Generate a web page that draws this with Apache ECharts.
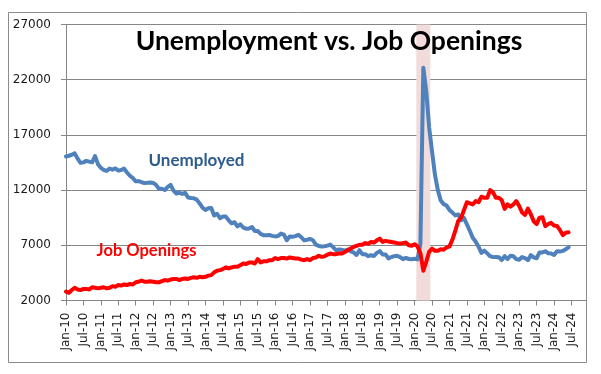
<!DOCTYPE html>
<html><head><meta charset="utf-8">
<script src="https://cdn.jsdelivr.net/npm/echarts@6/dist/echarts.min.js"></script>
<style>html,body{margin:0;padding:0;background:#fff}#c{width:601px;height:374px}</style>
</head><body><div id="c"></div>
<script>
const monthNames = ['Jan','Feb','Mar','Apr','May','Jun','Jul','Aug','Sep','Oct','Nov','Dec'];
const yearLabels = ['10','11','12','13','14','15','16','17','18','19','20','21','22','23','24'];
const categories = [];
yearLabels.forEach(y => monthNames.forEach(m => categories.push(m + '-' + y)));

const yMin = 2000, yMax = 27000, yStep = 5000;

const unemployed = [
  15046,15113,15202,15325,14849,14474,14512,14648,14579,14516,15081,14348,
  14013,13820,13737,13957,13855,13962,13763,13818,13948,13594,13302,13093,
  12797,12813,12713,12646,12660,12692,12656,12471,12115,12124,12005,12298,
  12471,11950,11689,11760,11654,11751,11335,11279,11270,11136,10787,10404,
  10202,10349,10380,9702,9859,9460,9608,9599,9262,8990,9090,8717,
  8903,8610,8504,8526,8661,8297,8293,8037,7905,7908,7931,7855,
  7806,7838,8058,7962,7460,7800,7776,7833,7958,7729,7449,7508,
  7575,7459,7058,6941,6899,6915,6974,7062,6813,6554,6615,6589,
  6525,6618,6458,6358,6124,6555,6198,6197,6010,6101,6031,6311,
  6468,6167,6170,5812,5936,6020,6050,5935,5741,5854,5759,5737,
  5787,5722,7140,23078,20985,17697,15500,13400,12000,11049,10728,10600,
  10200,9963,9711,9796,9262,9474,8900,8314,7687,7346,6874,6319,
  6516,6270,6012,5929,5948,5912,5668,6014,5753,6059,6011,5753,
  5694,5936,5839,5657,6109,5911,5827,6351,6358,6458,6281,6268,
  6124,6458,6429,6492,6649,6811
];

const jobOpenings = [
  2800,2700,2950,3150,3000,2950,3050,3050,3000,3200,3150,3100,
  3150,3200,3100,3150,3300,3250,3400,3350,3450,3400,3500,3450,
  3650,3700,3800,3700,3700,3750,3700,3650,3650,3750,3850,3800,
  3900,3950,3950,3850,3950,4000,3950,4050,4100,4050,4150,4100,
  4150,4250,4300,4550,4700,4750,4850,5000,4900,5000,5050,5050,
  5200,5350,5300,5450,5450,5350,5750,5450,5550,5550,5650,5650,
  5850,5750,5850,5850,5800,5900,5850,5800,5800,5700,5650,5750,
  5650,5850,5900,6050,5950,6000,6150,6250,6200,6200,6250,6250,
  6400,6550,6700,6850,6950,7050,7050,7200,7150,7300,7250,7450,
  7600,7300,7400,7350,7300,7250,7200,7150,7200,7250,7000,6950,
  7100,6900,6300,4700,5500,6400,6700,6500,6500,6650,6600,6800,
  6900,7500,8300,9200,9500,10200,10900,10800,10700,11000,10900,11400,
  11300,11300,12000,11800,11300,11300,11100,10300,10700,10500,10700,11000,
  10560,9970,9750,10320,9820,9170,8920,9500,9550,8730,8930,9030,
  8800,8750,8400,7920,8140,8180
];

// recession shading (Covid recession), drawn as a full-height bar at Apr-20
const recessionMonth = 'Apr-20';
const recession = categories.map(c => c === recessionMonth ? yMax : null);

const chart = echarts.init(document.getElementById('c'), null, {renderer: 'canvas'});
const axisFont = 'DejaVu Sans';
chart.setOption({
  animation: false,
  backgroundColor: '#fff',
  grid: {left: 66, top: 24.5, right: 15, bottom: 73.5, containLabel: false},
  xAxis: {
    type: 'category', data: categories, boundaryGap: false,
    axisLine: {lineStyle: {color: '#868686', width: 1}},
    axisTick: {show: true, interval: 5, length: 5, lineStyle: {color: '#868686'}},
    axisLabel: {interval: 5, rotate: 90, margin: 12, fontFamily: axisFont, fontSize: 12, color: '#1a1a1a'},
    splitLine: {show: false}
  },
  yAxis: {
    type: 'value', min: yMin, max: yMax, interval: yStep,
    axisLine: {show: true, lineStyle: {color: '#868686', width: 1}},
    axisTick: {show: true, length: 5, lineStyle: {color: '#868686'}},
    axisLabel: {margin: 15, fontFamily: axisFont, fontSize: 12, color: '#1a1a1a', formatter: v => String(v)},
    splitLine: {show: true, lineStyle: {color: '#868686', width: 1}}
  },
  series: [
    {name: 'Recession', type: 'bar', data: recession, barWidth: 14, z: 1,
     itemStyle: {color: '#F2DCDB'}, silent: true},
    {name: 'Unemployed', type: 'line', data: unemployed, showSymbol: false, z: 3,
     lineStyle: {color: '#4F81BD', width: 4, cap: 'round', join: 'round'}, itemStyle: {color: '#4F81BD'}},
    {name: 'Job Openings', type: 'line', data: jobOpenings, showSymbol: false, z: 4,
     lineStyle: {color: '#FF0000', width: 4, cap: 'round', join: 'round'}, itemStyle: {color: '#FF0000'}}
  ],
  graphic: [
    {type: 'rect', shape: {x: 8.5, y: 12.5, width: 578, height: 350}, style: {fill: null, stroke: '#8c8c8c', lineWidth: 1}, silent: true, z: 0},
    {type: 'text', x: 329, y: 41, style: {text: 'Unemployment vs. Job Openings', fontFamily: 'Lato', fontWeight: 'bold', fontSize: 26.5, fill: '#000', textAlign: 'center', textVerticalAlign: 'middle'}, z: 10},
    {type: 'text', x: 196.5, y: 160.5, style: {text: 'Unemployed', fontFamily: 'Lato', fontWeight: 'bold', fontSize: 17, fill: '#2F5C8F', textAlign: 'center', textVerticalAlign: 'middle'}, z: 10},
    {type: 'text', x: 146.5, y: 251, style: {text: 'Job Openings', fontFamily: 'Lato', fontWeight: 'bold', fontSize: 16.5, fill: '#FF0000', textAlign: 'center', textVerticalAlign: 'middle'}, z: 10}
  ]
});
</script></body></html>
